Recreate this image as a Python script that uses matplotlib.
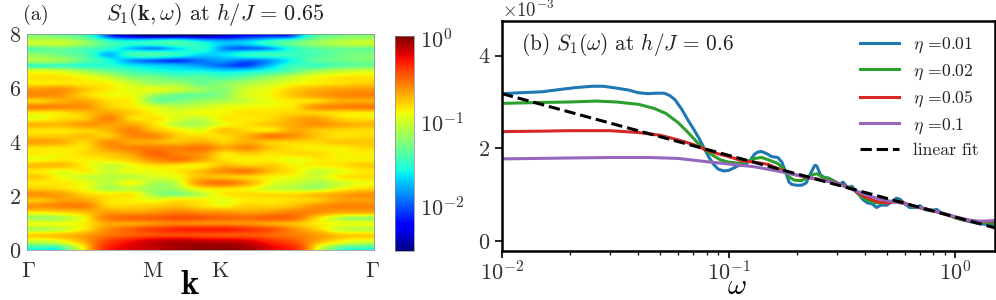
import matplotlib
matplotlib.use('Agg')
import matplotlib.pyplot as plt
from matplotlib.colors import LogNorm
import numpy as np

plt.rcParams['font.family'] = ['cmr10', 'DejaVu Sans']
plt.rcParams['mathtext.fontset'] = 'cm'
plt.rcParams['axes.formatter.use_mathtext'] = True

W = 996
H = 300

# log10 S1(k, w), top row is w = 8, bottom row is w = 0
log_s = [
    [-1.2, -1.25, -1.4, -1.9, -2.2, -2.3, -2.25, -2.3, -2.25, -2.1, -2.0, -1.85, -1.35, -1.25, -1.2],
    [-1.0, -1.0, -1.15, -1.4, -1.5, -1.45, -1.4, -1.55, -1.7, -1.65, -1.45, -1.3, -1.15, -1.05, -1.0],
    [-1.35, -1.3, -1.4, -1.5, -1.7, -1.85, -1.65, -1.5, -1.85, -1.95, -1.8, -1.5, -1.35, -1.3, -1.3],
    [-1.2, -1.3, -1.4, -1.75, -1.45, -1.4, -1.5, -1.65, -1.65, -1.5, -1.45, -1.45, -1.4, -1.3, -1.25],
    [-1.1, -1.15, -1.35, -1.55, -1.8, -1.95, -2.05, -1.9, -1.8, -1.9, -1.8, -1.55, -1.35, -1.3, -1.25],
    [-1.45, -1.45, -1.5, -1.5, -1.6, -1.65, -1.7, -1.8, -1.95, -2.0, -1.7, -1.45, -1.45, -1.35, -1.3],
    [-0.9, -0.95, -1.1, -1.25, -1.4, -1.5, -1.55, -1.55, -1.6, -1.55, -1.45, -1.3, -1.1, -1.0, -0.95],
    [-0.82, -0.82, -0.88, -1.0, -1.2, -1.25, -1.35, -1.35, -1.4, -1.3, -1.15, -1.0, -0.88, -0.82, -0.82],
    [-0.84, -0.82, -0.84, -0.86, -1.0, -1.15, -1.15, -1.3, -1.2, -1.1, -1.0, -0.9, -0.84, -0.8, -0.76],
    [-0.62, -0.6, -0.74, -0.84, -0.92, -0.92, -1.0, -1.15, -1.2, -0.98, -0.9, -0.76, -0.68, -0.64, -0.62],
    [-0.58, -0.62, -0.78, -0.88, -0.9, -1.15, -1.3, -1.3, -1.2, -0.95, -0.87, -0.74, -0.64, -0.58, -0.56],
    [-0.78, -0.68, -0.66, -0.8, -0.86, -1.25, -1.25, -1.15, -1.1, -1.0, -0.9, -0.84, -0.8, -0.68, -0.68],
    [-0.56, -0.58, -0.6, -0.76, -0.84, -0.95, -1.05, -1.0, -0.92, -0.88, -0.87, -0.82, -0.6, -0.56, -0.54],
    [-0.84, -0.82, -0.72, -0.66, -0.76, -0.88, -0.95, -0.88, -0.88, -0.82, -0.82, -0.78, -0.78, -0.82, -0.84],
    [-0.9, -0.8, -0.76, -0.56, -0.8, -0.82, -0.95, -1.03, -0.84, -0.84, -0.8, -0.68, -0.64, -0.78, -0.82],
    [-0.7, -0.7, -0.62, -0.64, -0.66, -0.82, -1.05, -1.08, -0.9, -0.82, -0.74, -0.66, -0.6, -0.66, -0.7],
    [-0.82, -0.82, -0.78, -0.7, -0.56, -0.72, -0.84, -0.92, -0.74, -0.8, -0.84, -0.66, -0.74, -0.78, -0.8],
    [-0.76, -0.76, -0.72, -0.76, -0.58, -0.58, -0.76, -0.8, -0.8, -0.68, -0.54, -0.6, -0.74, -0.82, -0.8],
    [-0.64, -0.68, -0.78, -0.6, -0.66, -0.68, -0.74, -0.68, -0.78, -0.68, -0.76, -0.78, -0.78, -0.74, -0.74],
    [-0.82, -0.82, -0.82, -0.62, -0.56, -0.54, -0.56, -0.52, -0.66, -0.58, -0.74, -0.82, -0.86, -0.86, -0.8],
    [-0.84, -0.86, -0.8, -0.74, -0.64, -0.48, -0.56, -0.6, -0.82, -0.76, -0.82, -0.8, -0.8, -0.86, -0.85],
    [-0.9, -0.84, -0.86, -0.82, -0.74, -0.58, -0.52, -0.64, -0.82, -0.86, -0.86, -0.92, -0.84, -0.86, -0.86],
    [-0.72, -0.72, -0.86, -1.0, -0.9, -0.8, -0.82, -0.86, -0.72, -0.76, -0.76, -0.86, -0.86, -0.82, -0.76],
    [-0.84, -0.92, -0.84, -1.0, -0.9, -0.9, -0.84, -0.72, -0.58, -0.54, -0.72, -0.84, -1.0, -0.92, -0.84],
    [-0.76, -0.9, -1.0, -1.05, -1.05, -0.96, -0.9, -0.72, -0.74, -0.78, -0.86, -0.9, -1.0, -0.84, -0.8],
    [-0.84, -0.84, -0.9, -1.05, -0.88, -1.1, -1.0, -0.6, -0.52, -0.66, -0.9, -1.0, -1.1, -1.0, -0.9],
    [-0.76, -0.8, -0.9, -1.1, -1.05, -1.15, -1.1, -0.84, -0.82, -0.86, -1.0, -1.05, -1.1, -0.9, -0.8],
    [-0.6, -0.64, -0.78, -0.84, -0.84, -1.12, -1.22, -1.05, -0.84, -0.8, -0.8, -0.8, -0.72, -0.66, -0.6],
    [-0.74, -0.64, -0.66, -0.82, -0.86, -0.9, -0.82, -0.84, -0.92, -0.84, -0.84, -0.8, -0.76, -0.64, -0.64],
    [-0.6, -0.56, -0.56, -0.78, -0.78, -0.76, -0.72, -0.8, -0.86, -0.76, -0.78, -0.72, -0.6, -0.56, -0.56],
    [-0.82, -0.78, -0.72, -0.64, -0.66, -0.62, -0.56, -0.6, -0.62, -0.66, -0.62, -0.56, -0.58, -0.66, -0.66],
    [-1.15, -1.1, -0.86, -0.54, -0.48, -0.46, -0.42, -0.44, -0.48, -0.5, -0.46, -0.5, -0.78, -1.05, -1.15],
    [-0.9, -0.9, -0.84, -0.66, -0.66, -0.6, -0.56, -0.58, -0.58, -0.6, -0.66, -0.72, -0.84, -0.9, -0.9],
    [-1.1, -1.02, -0.82, -0.58, -0.46, -0.36, -0.3, -0.28, -0.28, -0.34, -0.42, -0.58, -0.76, -1.0, -1.06],
    [-0.76, -0.72, -0.64, -0.52, -0.46, -0.42, -0.4, -0.42, -0.44, -0.44, -0.48, -0.54, -0.62, -0.74, -0.76],
    [-1.0, -0.9, -0.66, -0.38, -0.24, -0.14, -0.1, -0.12, -0.14, -0.18, -0.32, -0.44, -0.66, -0.85, -0.95],
    [-1.45, -1.35, -0.8, -0.3, -0.18, -0.12, -0.05, -0.02, -0.02, -0.06, -0.2, -0.32, -0.85, -1.3, -1.4],
]
k_ticks = [0.003, 0.36, 0.555, 0.995]
k_labels = [r'$\mathrm{\Gamma}$', 'M', 'K', r'$\mathrm{\Gamma}$']
w_ticks = [0, 2, 4, 6, 8]

w_blue = [0.01, 0.012, 0.015, 0.018, 0.021, 0.025, 0.028, 0.032, 0.036, 0.04, 0.044, 0.048, 0.052, 0.055,
          0.058, 0.062, 0.066, 0.07, 0.074, 0.078, 0.082, 0.086, 0.09, 0.095, 0.1, 0.105, 0.11, 0.115, 0.12,
          0.125, 0.13, 0.135, 0.14, 0.148, 0.155, 0.165, 0.172, 0.178, 0.185, 0.19, 0.2, 0.21, 0.22, 0.23,
          0.24, 0.245, 0.255, 0.265, 0.275, 0.29, 0.31, 0.32, 0.335, 0.35, 0.37, 0.39, 0.41, 0.43, 0.45, 0.47,
          0.5, 0.52, 0.55, 0.57, 0.6, 0.63, 0.67, 0.7, 0.73, 0.78, 0.83, 0.87, 0.95, 1.0, 1.08, 1.15, 1.25,
          1.35, 1.5]
s_blue = [3.18, 3.2, 3.22, 3.27, 3.31, 3.34, 3.34, 3.3, 3.26, 3.2, 3.18, 3.19, 3.19, 3.14,
          3.05, 2.85, 2.62, 2.42, 2.22, 2.0, 1.8, 1.65, 1.55, 1.51, 1.52, 1.57, 1.62, 1.65, 1.67,
          1.75, 1.87, 1.92, 1.93, 1.88, 1.82, 1.8, 1.7, 1.5, 1.27, 1.22, 1.2, 1.2, 1.25, 1.45,
          1.63, 1.62, 1.42, 1.37, 1.36, 1.3, 1.22, 1.27, 1.15, 1.18, 1.05, 0.9, 0.82, 0.8, 0.72, 0.77,
          0.77, 0.83, 0.92, 0.9, 0.8, 0.72, 0.72, 0.76, 0.68, 0.65, 0.68, 0.6, 0.55, 0.5, 0.45, 0.42, 0.38,
          0.36, 0.35]
w_green = [0.01, 0.015, 0.02, 0.026, 0.032, 0.04, 0.047, 0.053, 0.06, 0.066, 0.072, 0.078, 0.085, 0.092, 0.1,
           0.11, 0.12, 0.13, 0.14, 0.15, 0.165, 0.175, 0.185, 0.195, 0.21, 0.22, 0.235, 0.245, 0.26, 0.28, 0.3,
           0.32, 0.35, 0.38, 0.41, 0.45, 0.5, 0.55, 0.6, 0.65, 0.72, 0.8, 0.9, 1.0, 1.1, 1.25, 1.5]
s_green = [2.97, 2.99, 3.0, 3.02, 3.0, 2.95, 2.86, 2.75, 2.55, 2.35, 2.15, 1.98, 1.85, 1.75, 1.7,
           1.68, 1.7, 1.78, 1.8, 1.75, 1.67, 1.55, 1.38, 1.31, 1.3, 1.35, 1.43, 1.45, 1.38, 1.33, 1.25,
           1.2, 1.14, 0.98, 0.87, 0.82, 0.82, 0.88, 0.8, 0.74, 0.7, 0.66, 0.58, 0.5, 0.45, 0.41, 0.38]
w_red = [0.01, 0.015, 0.02, 0.03, 0.04, 0.05, 0.06, 0.07, 0.08, 0.09, 0.1, 0.115, 0.13, 0.15, 0.17, 0.19,
         0.22, 0.25, 0.3, 0.35, 0.4, 0.45, 0.5, 0.57, 0.65, 0.75, 0.9, 1.05, 1.2, 1.5]
s_red = [2.36, 2.37, 2.38, 2.38, 2.34, 2.28, 2.18, 2.08, 1.96, 1.88, 1.82, 1.73, 1.7, 1.65, 1.53, 1.45,
         1.37, 1.33, 1.25, 1.12, 0.95, 0.85, 0.82, 0.85, 0.75, 0.68, 0.58, 0.48, 0.42, 0.42]
w_purple = [0.01, 0.02, 0.03, 0.045, 0.06, 0.08, 0.1, 0.13, 0.16, 0.2, 0.25, 0.3, 0.35, 0.4, 0.45, 0.5,
            0.6, 0.7, 0.85, 1.0, 1.15, 1.3, 1.5]
s_purple = [1.77, 1.79, 1.8, 1.8, 1.78, 1.71, 1.66, 1.6, 1.52, 1.42, 1.33, 1.24, 1.12, 1.0, 0.92, 0.87,
            0.8, 0.72, 0.62, 0.52, 0.45, 0.42, 0.44]
w_fit = [0.01, 1.5]
s_fit = [3.18, 0.28]


def px_axes(x0, y0, x1, y1):
    return fig.add_axes([x0 / W, 1 - y1 / H, (x1 - x0) / W, (y1 - y0) / H])


fig = plt.figure(figsize=(W / 100, H / 100), dpi=100)

# panel a
ax1 = px_axes(27, 34, 374, 250)
norm = LogNorm(vmin=10 ** -2.53, vmax=10 ** 0.03)
im = ax1.imshow(10 ** np.array(log_s), cmap='jet', norm=norm, aspect='auto',
                interpolation='catrom', extent=(0, 1, 0, 8))
ax1.set_xticks(k_ticks)
ax1.set_xticklabels(k_labels)
ax1.set_yticks(w_ticks)
ax1.tick_params(length=0, labelsize=16, labelcolor='#333333')
ax1.tick_params(axis='x', pad=8)
ax1.tick_params(axis='y', pad=4)
for s in ax1.spines.values():
    s.set_linewidth(0.5)
    s.set_color('#888888')
ax1.set_xlabel(r'$\mathbf{k}$', fontsize=25, va='center')
ax1.xaxis.set_label_coords(0.47, -0.162, transform=ax1.transAxes)
fig.text(23 / W, 1 - 15 / H, '(a)', fontsize=14.5, va='center', color='#222222')
fig.text(215 / W, 1 - 15 / H, r'$S_1(\mathbf{k},\omega)$ at $h/J\,=\,0.65$', fontsize=16,
         va='center', ha='center', color='#222222')

cax = px_axes(395, 36, 414, 251)
cb = fig.colorbar(im, cax=cax, ticks=[1, 0.1, 0.01])
cb.ax.minorticks_off()
cb.ax.tick_params(length=0, labelsize=16, pad=4, labelcolor='#333333')
cb.outline.set_linewidth(0.5)
cb.outline.set_edgecolor('#888888')

# panel b
ax2 = px_axes(502, 21, 995, 251)
ax2.plot(w_blue, np.array(s_blue) * 1e-3, color='C0', lw=2.2, label=r'$\eta$ =0.01')
ax2.plot(w_green, np.array(s_green) * 1e-3, color='C2', lw=2.2, label=r'$\eta$ =0.02')
ax2.plot(w_red, np.array(s_red) * 1e-3, color='C3', lw=2.2, label=r'$\eta$ =0.05')
ax2.plot(w_purple, np.array(s_purple) * 1e-3, color='C4', lw=2.2, label=r'$\eta$ =0.1')
ax2.plot(w_fit, np.array(s_fit) * 1e-3, color='k', lw=2.2, ls='--', label='linear fit')
ax2.set_xscale('log')
ax2.set_xlim(0.01, 1.5)
ax2.set_ylim(-0.22e-3, 4.75e-3)
ax2.set_yticks([0, 2e-3, 4e-3])
ax2.ticklabel_format(axis='y', style='sci', scilimits=(0, 0), useMathText=True)
ax2.yaxis.get_offset_text().set_fontsize(13.5)
ax2.tick_params(which='major', length=5, width=1.2, labelsize=16, labelcolor='#333333')
ax2.tick_params(which='minor', length=3, width=0.9)
ax2.tick_params(axis='x', which='major', pad=1.5)
for s in ax2.spines.values():
    s.set_linewidth(1.8)
ax2.set_xlabel(r'$\omega$', fontsize=21, va='baseline')
ax2.xaxis.set_label_coords((737 - 502) / 493, -(294 - 251) / 230, transform=ax2.transAxes)
ax2.text(521 / W, 1 - 45 / H, r'(b) $S_1(\omega)$ at $h/J\,=\,0.6$', fontsize=15.3, va='center',
         color='#222222', transform=fig.transFigure)
ax2.legend(loc='upper right', bbox_to_anchor=(0.992, 0.99), frameon=False, fontsize=12.7, handlelength=2.2,
           labelspacing=0.4, handletextpad=0.8, borderaxespad=0.3, labelcolor='#222222')

fig.savefig('out.png', dpi=100)
